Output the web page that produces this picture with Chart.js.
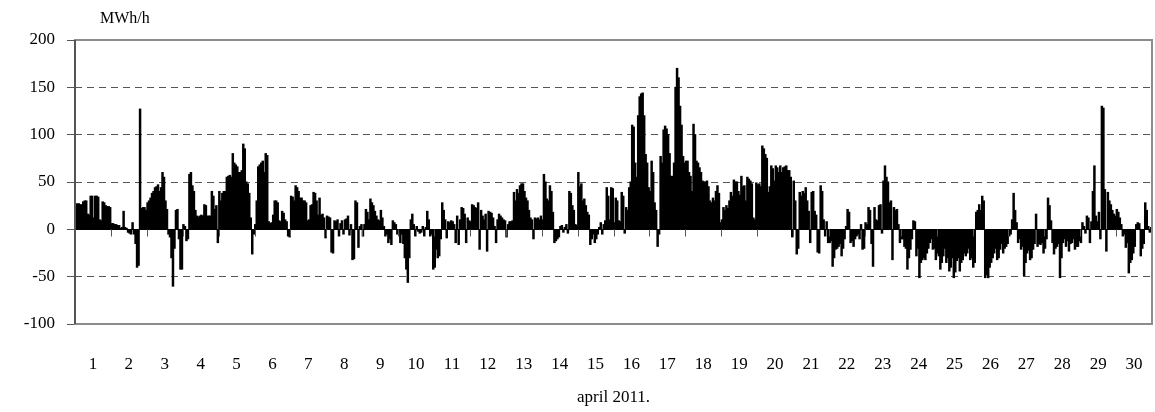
<!DOCTYPE html>
<html>
<head>
<meta charset="utf-8">
<title>april 2011</title>
<script src="https://cdn.jsdelivr.net/npm/chart.js@4/dist/chart.umd.min.js"></script>
<style>
    body { margin: 0; background: #fff; }
    #wrap { position: relative; width: 1155px; height: 412px; }
    #unit { position: absolute; left: 100px; top: 9px; font: 16px 'Liberation Serif', 'Times New Roman', serif; color: #000; }
</style>
</head>
<body>
<div id="wrap">
    <canvas id="chart" width="1155" height="412"></canvas>
    <div id="unit">MWh/h</div>
</div>
<script>
// ====== DATA (MWh/h, hourly, april 2011) ======
const DAYS = ['1','2','3','4','5','6','7','8','9','10','11','12','13','14','15',
              '16','17','18','19','20','21','22','23','24','25','26','27','28','29','30'];
const Y_TICKS = [200, 150, 100, 50, 0, -50, -100];

const day01 = [8,27,27,26,26,29,30,30,16,15,35,35,12,35,35,34,10,9,29,28,25,24,24,23];
const day02 = [6,6,5,5,4,4,1,2,19,2,1,-3,-4,-5,7,-5,-15,-40,-38,127,22,23,23,20];
const day03 = [28,30,33,38,40,44,45,47,40,44,60,55,30,21,-5,-8,-30,-60,-20,20,21,-10,-42,-42];
const day04 = [5,3,-12,-10,58,60,46,40,20,14,13,14,15,14,26,25,14,14,14,40,35,21,25,-14];
const day05 = [40,30,38,40,40,55,56,57,55,80,70,68,66,60,60,62,90,85,50,48,38,12,-26,-5];
const day06 = [5,30,66,68,70,72,60,80,78,8,6,7,15,30,30,28,9,8,19,17,10,8,-7,-8];
const day07 = [35,34,30,46,44,40,33,33,30,30,28,9,10,25,26,39,38,30,15,33,15,16,12,-9];
const day08 = [14,13,12,-24,-25,9,8,10,-7,6,9,-5,10,11,14,-6,5,-32,-31,30,28,-19,3,5];
const day09 = [-7,5,21,18,10,32,28,25,19,14,10,9,20,12,3,-7,-5,-14,-10,-16,9,7,5,-5];
const day10 = [-3,-14,-5,-15,-30,-42,-56,-30,10,16,5,-7,3,-2,-4,-3,3,-7,2,19,10,-7,-5,-42];
const day11 = [-40,-21,-30,-28,-10,28,20,10,-9,8,7,9,8,5,-14,14,-16,10,23,22,16,-14,12,9];
const day12 = [8,26,25,23,22,28,-21,20,14,10,16,-23,19,18,17,12,3,-14,10,16,14,12,10,9];
const day13 = [-8,5,8,8,9,39,30,42,38,46,48,48,40,33,30,20,12,10,-10,12,11,12,10,14];
const day14 = [10,58,50,32,30,46,40,18,-14,-12,-10,-8,3,4,-3,2,5,-4,40,38,25,20,5,4];
const day15 = [60,45,48,30,32,25,18,15,-16,-10,-5,-14,-10,-5,2,7,-5,5,9,44,35,10,44,43];
const day16 = [7,33,30,9,8,39,35,-4,23,20,44,50,110,108,70,55,120,140,143,144,120,79,70,44];
const day17 = [40,72,60,28,20,-18,-5,77,70,105,109,106,100,80,56,56,70,150,170,160,130,110,77,70];
const day18 = [72,72,60,56,40,111,100,72,70,65,60,51,50,50,51,45,30,28,33,30,40,46,38,7];
const day19 = [10,23,20,25,22,30,39,35,52,50,50,40,36,56,45,46,30,55,53,51,48,12,10,49];
const day20 = [47,48,45,88,85,79,75,39,45,67,64,51,67,65,60,67,60,65,66,67,62,62,55,-8];
const day21 = [51,30,-26,-20,39,35,40,38,44,30,19,-14,39,40,19,15,-24,-25,46,40,10,-7,8,-14];
const day22 = [-14,-12,-39,-30,-21,-20,-18,-15,-28,-20,-10,3,21,18,-14,-12,-18,-10,-7,-5,-10,5,-21,-20];
const day23 = [7,5,23,20,-15,-39,23,10,9,25,26,-4,51,67,55,50,28,30,-32,23,20,21,5,-14];
const day24 = [-10,-10,-18,-20,-42,-30,-21,-10,9,8,-28,-20,-51,-35,-32,-30,-32,-25,-20,-14,-10,-21,-20,-32];
const day25 = [-25,-28,-42,-35,-28,-20,-35,-30,-44,-40,-30,-51,-45,-33,-30,-44,-35,-32,-25,-28,-25,-20,-32,-30];
const day26 = [-40,-35,18,20,26,20,35,30,-51,-48,-51,-40,-35,-30,-25,-20,-32,-30,-21,-15,-25,-20,-18,-15];
const day27 = [-7,-5,10,38,20,7,-14,-10,-21,-18,-49,-35,-25,-22,-32,-30,-21,-15,16,-18,-15,-16,-14,-25];
const day28 = [-20,-10,33,25,9,-14,-26,-20,-18,-15,-51,-30,-14,-10,-18,-12,-23,-15,-14,-10,-21,-18,-18,-12];
const day29 = [-14,7,3,-4,14,12,-14,8,40,67,14,8,18,-10,130,128,42,-23,39,30,26,20,16,14];
const day30 = [21,18,12,5,-7,-5,-19,-14,-46,-35,-32,-25,-18,5,7,6,-28,-20,-15,28,20,3,-3,2];

const HOURLY = [].concat(day01, day02, day03, day04, day05, day06, day07, day08, day09, day10,
                         day11, day12, day13, day14, day15, day16, day17, day18, day19, day20,
                         day21, day22, day23, day24, day25, day26, day27, day28, day29, day30);
const HOURS = HOURLY.map((_, i) => String(i));

const FONT = { family: "'Liberation Serif', 'Times New Roman', serif", size: 17 };

// no side padding from labels, the frame must fill the width
const noSidePadding = s => { s.paddingLeft = 0; s.paddingRight = 0; };

// ====== FRAME, ZERO AXIS, DAY TICKS ======
const framePlugin = {
    id: 'frame',
    afterDatasetsDraw(chart) {
        const { ctx, chartArea: a, scales } = chart;
        const y0 = Math.round(scales.y.getPixelForValue(0)) + 0.5;
        ctx.save();
        // zero axis line
        ctx.strokeStyle = '#000';
        ctx.lineWidth = 1;
        ctx.beginPath();
        ctx.moveTo(a.left, y0);
        ctx.lineTo(a.right, y0);
        ctx.stroke();
        // tick marks between days
        ctx.strokeStyle = '#555';
        const step = (a.right - a.left) / DAYS.length;
        for (let i = 1; i < DAYS.length; i++) {
            const x = Math.round(a.left + i * step) + 0.5;
            ctx.beginPath();
            ctx.moveTo(x, y0);
            ctx.lineTo(x, y0 + 7);
            ctx.stroke();
        }
        // outer frame
        ctx.strokeStyle = '#8c8c8c';
        ctx.lineWidth = 2;
        ctx.strokeRect(a.left, a.top, a.right - a.left, a.bottom - a.top);
        ctx.strokeStyle = '#555';
        ctx.beginPath();
        ctx.moveTo(a.left, a.top);
        ctx.lineTo(a.left, a.bottom);
        ctx.stroke();
        ctx.restore();
    }
};

new Chart(document.getElementById('chart'), {
    type: 'bar',
    data: {
        labels: HOURS,
        datasets: [{
            data: HOURLY,
            backgroundColor: '#000',
            borderWidth: 0,
            barPercentage: 1,
            categoryPercentage: 1,
            inflateAmount: 0.5,
            xAxisID: 'x'
        }]
    },
    options: {
        responsive: false,
        animation: false,
        layout: { padding: { top: 40, right: 3, left: 0, bottom: 0 } },
        plugins: {
            legend: { display: false },
            tooltip: { enabled: false }
        },
        scales: {
            x: { display: false, offset: true, afterFit: noSidePadding },
            xDays: {
                type: 'category',
                labels: DAYS,
                position: 'bottom',
                offset: true,
                grid: { display: false, drawTicks: false },
                border: { display: false },
                ticks: { font: FONT, color: '#000', padding: 30, autoSkip: false, maxRotation: 0 },
                title: { display: true, text: 'april 2011.', font: FONT, color: '#000', padding: { top: 4, bottom: 4 } },
                afterFit: s => { s.height = 88; noSidePadding(s); }
            },
            y: {
                min: -100,
                max: 200,
                afterBuildTicks: s => { s.ticks = Y_TICKS.map(v => ({ value: v })); },
                ticks: { font: FONT, color: '#000', padding: 12 },
                grid: {
                    color: c => [200, 0, -100].includes(c.tick.value) ? 'rgba(0,0,0,0)' : '#555',
                    tickColor: '#555',
                    tickLength: 8,
                    tickBorderDash: []
                },
                border: { display: false, dash: [7, 5] },
                afterFit: s => { s.width = 75; }
            }
        }
    },
    plugins: [framePlugin]
});
</script>
</body>
</html>
